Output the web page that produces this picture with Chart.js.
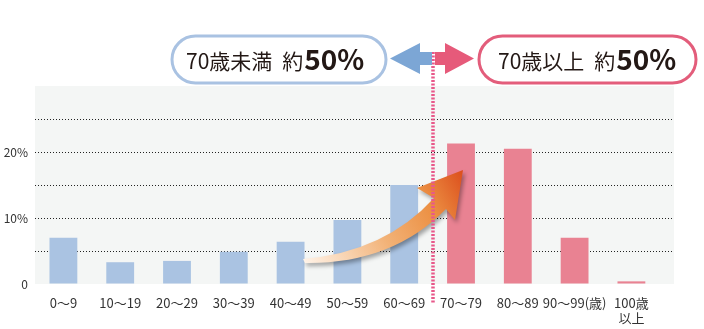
<!DOCTYPE html>
<html>
<head>
<meta charset="utf-8">
<script src="https://cdn.jsdelivr.net/npm/chart.js"></script>
<style>
  body { margin: 0; background: #fff; }
  #wrap { width: 704px; height: 329px; }
</style>
</head>
<body>
<div id="wrap">
  <canvas id="my-chart" width="704" height="329"></canvas>
</div>
<script>
// age groups and share of total (%)
const ageLabels = ['0〜9', '10〜19', '20〜29', '30〜39', '40〜49', '50〜59', '60〜69',
                   '70〜79', '80〜89', '90〜99(歳)', ['100歳', '以上']];
const shareValues = [7.0, 3.3, 3.5, 4.9, 6.4, 9.7, 15.0, 21.3, 20.5, 7.0, 0.4];
const under70Text = '70歳未満';
const over70Text = '70歳以上';
const aboutText = '約';
const halfText = '50%';
const yTickLabels = { 0: '0', 10: '10%', 20: '20%' };

const FONT = '"Noto Sans CJK JP", "Noto Sans", sans-serif';
const BLUE = '#aac3e2';
const PINK = '#e98292';

const ctx = document.getElementById('my-chart');

var barColors = shareValues.map(function(v, i){ return i < 7 ? BLUE : PINK; });
var points = shareValues.map(function(v, i){ return { x: i, y: v }; });

function roundBox(c, x, y, w, h, color){
    var r = h / 2;
    c.beginPath();
    c.moveTo(x + r, y);
    c.lineTo(x + w - r, y);
    c.arc(x + w - r, y + r, r, -Math.PI / 2, Math.PI / 2);
    c.lineTo(x + r, y + h);
    c.arc(x + r, y + r, r, Math.PI / 2, Math.PI * 1.5);
    c.closePath();
    c.fillStyle = '#fff';
    c.fill();
    c.lineWidth = 3;
    c.strokeStyle = color;
    c.stroke();
}

function boxText(c, x, base, txt){
    c.fillStyle = '#231815';
    c.textBaseline = 'alphabetic';
    c.textAlign = 'left';
    c.font = '21px ' + FONT;
    c.fillText(txt, x, base);
    var w = c.measureText(txt).width + 10;
    c.fillText(aboutText, x + w, base);
    w += c.measureText(aboutText).width;
    c.font = 'bold 28px ' + FONT;
    c.fillText(halfText, x + w + 1, base + 1);
}

const bgPlugin = {
    id: 'bg',
    beforeDraw: function(chart){
        var a = chart.chartArea, c = chart.ctx;
        c.save();
        c.fillStyle = '#f4f6f5';
        c.fillRect(a.left, a.top, a.right - a.left, a.bottom - a.top);
        c.restore();
    }
};

const decoPlugin = {
    id: 'deco',
    afterDraw: function(chart){
        var c = chart.ctx;
        var xs = chart.scales.x;
        var divX = Math.round(xs.getPixelForValue(6.5));
        c.save();

        // curved arrow
        var g = c.createLinearGradient(303, 260, 463, 172);
        g.addColorStop(0, '#fff3e8');
        g.addColorStop(0.45, '#f2b277');
        g.addColorStop(0.75, '#ec9043');
        g.addColorStop(1, '#dc4f1d');
        c.shadowColor = 'rgba(0,0,0,0.35)';
        c.shadowBlur = 4;
        c.shadowOffsetX = 2;
        c.shadowOffsetY = 3;
        c.beginPath();
        c.moveTo(303, 259);
        c.quadraticCurveTo(385, 252, 434, 198);
        c.lineTo(417, 188);
        c.lineTo(463, 170);
        c.lineTo(455, 220);
        c.lineTo(446, 209);
        c.quadraticCurveTo(392, 264, 305, 263);
        c.closePath();
        c.fillStyle = g;
        c.fill();
        c.shadowColor = 'transparent';

        // dividing line
        c.beginPath();
        c.setLineDash([2, 1.5]);
        c.lineWidth = 3.5;
        c.strokeStyle = '#e8588a';
        c.moveTo(divX, 52);
        c.lineTo(divX, 304);
        c.stroke();
        c.setLineDash([]);

        // arrows left/right
        c.fillStyle = '#7ca6d5';
        c.beginPath();
        c.moveTo(divX - 1, 52);
        c.lineTo(420, 52);
        c.lineTo(420, 43);
        c.lineTo(390, 58.5);
        c.lineTo(420, 74);
        c.lineTo(420, 65);
        c.lineTo(divX - 1, 65);
        c.closePath();
        c.fill();
        c.fillStyle = '#e65a7a';
        c.beginPath();
        c.moveTo(divX + 2, 52);
        c.lineTo(445, 52);
        c.lineTo(445, 43);
        c.lineTo(474, 58.5);
        c.lineTo(445, 74);
        c.lineTo(445, 65);
        c.lineTo(divX + 2, 65);
        c.closePath();
        c.fill();

        // boxes
        roundBox(c, 172, 36, 214, 47, '#a9c2e2');
        roundBox(c, 479, 36, 217, 47, '#e35d7b');
        boxText(c, 186, 69, under70Text);
        boxText(c, 498, 69, over70Text);
        c.restore();
    }
};

var chart = new Chart(ctx, {
    type: 'bar',
    data: {
        datasets: [{
            data: points,
            backgroundColor: barColors,
            barPercentage: 0.49,
            categoryPercentage: 1
        }]
    },
    options: {
        responsive: false,
        animation: false,
        layout: { padding: { top: 86, right: 30, left: 0, bottom: 0 } },
        plugins: { legend: { display: false }, tooltip: { enabled: false } },
        scales: {
            x: {
                type: 'linear',
                offset: false,
                min: -0.5,
                max: 10.75,
                afterBuildTicks: function(s){
                    s.ticks = ageLabels.map(function(l, i){ return { value: i }; });
                },
                afterFit: function(s){ s.height = 45; },
                grid: { display: false },
                border: { display: false },
                ticks: {
                    autoSkip: false,
                    maxRotation: 0,
                    padding: 3,
                    color: '#333',
                    font: { family: FONT, size: 13 },
                    callback: function(v){ return ageLabels[v]; }
                }
            },
            y: {
                min: 0,
                max: 30,
                afterFit: function(s){ s.width = 35; },
                grid: {
                    drawTicks: false,
                    lineWidth: 1,
                    color: function(c){
                        var v = c.tick ? c.tick.value : 0;
                        return (v === 0 || v === 30) ? 'rgba(0,0,0,0)' : '#222';
                    }
                },
                border: { display: false, dash: [1, 2] },
                ticks: {
                    stepSize: 5,
                    padding: 7,
                    color: '#333',
                    font: { family: FONT, size: 12 },
                    callback: function(v){ return yTickLabels[v] || ''; }
                }
            }
        }
    },
    plugins: [bgPlugin, decoPlugin]
});
</script>
</body>
</html>
